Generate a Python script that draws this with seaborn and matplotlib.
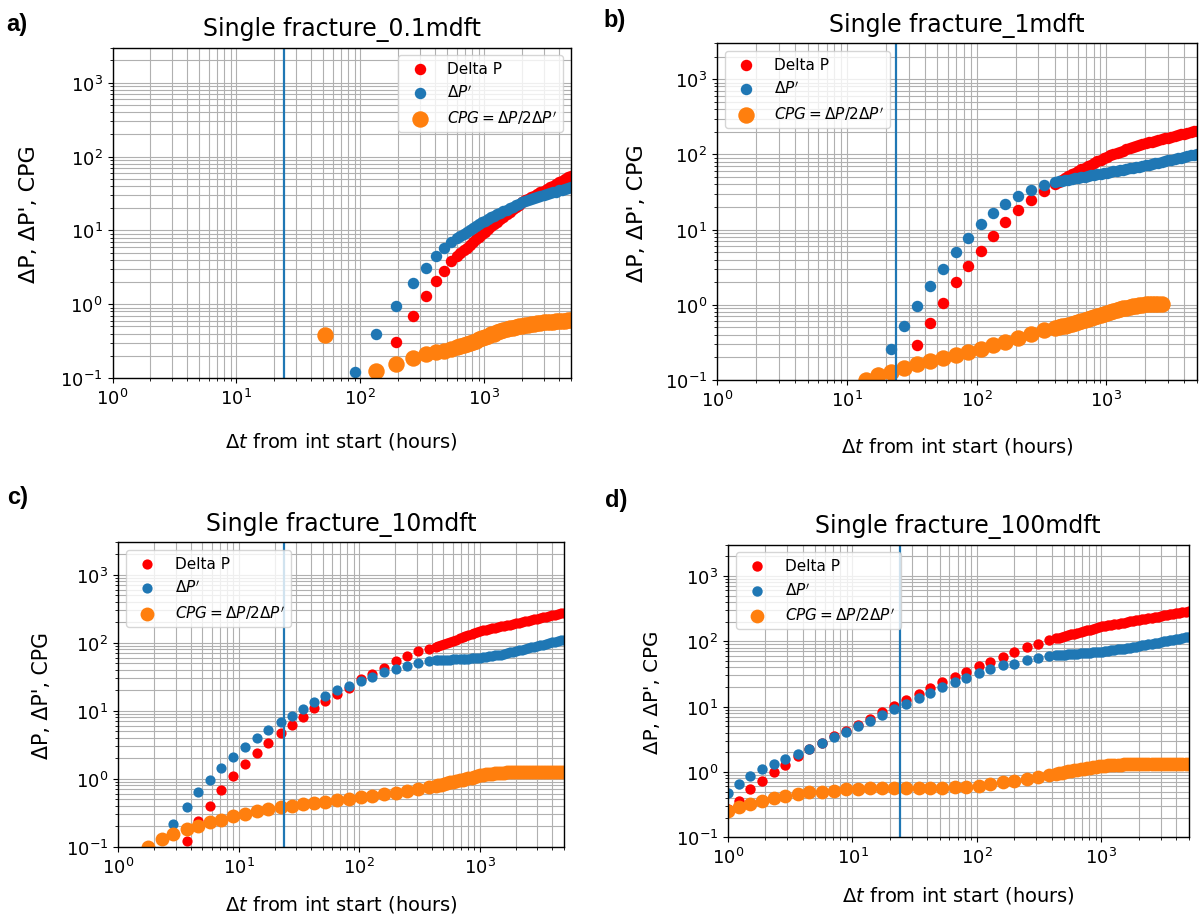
import matplotlib
matplotlib.use("Agg")
import matplotlib.pyplot as plt
import seaborn as sns

nan = float("nan")

# ---------------- data ----------------
# late-time samples (hours), shared by the panels
late_t = [430, 455, 480, 510, 540, 570, 605, 640, 680, 720, 760, 805, 855, 905,
          955, 1010, 1070, 1135, 1200, 1270, 1345, 1425, 1510, 1600, 1695, 1790,
          1900, 2010, 2130, 2250, 2385, 2525, 2675, 2830, 3000, 3175, 3360, 3560,
          3770, 3990, 4220, 4470, 4735, 5010]

# a) Single fracture_0.1mdft
a_t = [52, 90, 134, 194, 264, 337, 406, 474, 537] + late_t[6:]
a_dp = [nan, nan, nan, 0.31, 0.70, 1.31, 2.04, 2.85, 3.8,
        4.54, 4.92, 5.40, 5.85, 6.35, 6.90, 7.55, 8.22, 8.89, 9.62, 10.4, 11.3,
        12.1, 13.1, 14.1, 15.3, 16.5, 17.8, 19.2, 20.7, 22.4, 24.1, 25.4, 26.7,
        28.1, 29.6, 31.2, 32.9, 34.6, 36.5, 38.4, 40.4, 42.6, 44.8, 47.1, 49.7,
        52.2, 55.1]
a_dpd = [nan, 0.12, 0.39, 0.94, 1.94, 3.09, 4.5, 5.7, 7.05,
         7.98, 8.45, 9.02, 9.55, 10.1, 10.7, 11.4, 12.2, 12.8, 13.6, 14.3, 15.0,
         15.7, 16.5, 17.3, 18.1, 19.0, 19.9, 20.9, 21.9, 23.0, 24.0, 24.8, 25.5,
         26.4, 27.2, 28.0, 28.9, 29.8, 30.7, 31.6, 32.6, 33.6, 34.7, 35.6, 36.7,
         37.9, 39.1]
a_cpg = [0.38, nan, 0.125, 0.155, 0.184, 0.21, 0.225, 0.235, 0.245,
         0.26, 0.27, 0.28, 0.29, 0.30, 0.31, 0.32, 0.335, 0.35, 0.36, 0.375,
         0.39, 0.40, 0.415, 0.43, 0.445, 0.46, 0.47, 0.48, 0.49, 0.50, 0.51,
         0.52, 0.53, 0.54, 0.545, 0.55, 0.56, 0.565, 0.57, 0.575, 0.58, 0.585,
         0.59, 0.595, 0.60, 0.605, 0.61]

# b) Single fracture_1mdft
b_t = [14, 17.5, 22, 27.5, 35, 43.5, 55, 69, 86, 108, 133, 167, 209, 263, 330,
       400] + late_t
b_dp = [nan, nan, nan, nan, 0.29, 0.58, 1.06, 2.0, 3.3, 5.2, 8.3, 12.8, 18, 25,
        32.5, 40,
        43.2, 46.0, 48.8, 52.0, 54.6, 57.2, 60.2, 63.1, 66.6, 69.8, 73.3, 77.0,
        81.1, 85.3, 89.2, 93.5, 96.9, 100.6, 104.3, 108.1, 112.1, 116.3, 120.6,
        125.1, 129.8, 134.4, 138.4, 141.6, 145.0, 148.3, 152.0, 155.7, 159.5,
        163.4, 167.4, 171.5, 175.5, 179.6, 184.1, 188.4, 192.8, 197.7, 202.3,
        207.0]
b_dpd = [nan, 0.125, 0.26, 0.52, 0.95, 1.8, 3.0, 5.0, 7.8, 11.9, 16.8, 22, 28,
         34, 39.5, 42.5,
         43.6, 44.6, 45.4, 46.3, 47.1, 48.0, 48.9, 49.7, 50.6, 51.5, 52.4, 53.4,
         54.4, 55.3, 56.2, 57.2, 58.2, 59.3, 60.4, 61.5, 62.7, 63.8, 65.0, 66.2,
         67.5, 68.7, 70.0, 71.5, 73.1, 74.6, 76.2, 77.9, 79.6, 81.4, 83.2, 85.1,
         86.9, 88.8, 90.8, 92.8, 94.7, 96.8, 98.9, 101.0]
b_cpg = [0.1, 0.117, 0.129, 0.144, 0.164, 0.18, 0.195, 0.216, 0.235, 0.26,
         0.294, 0.32, 0.36, 0.41, 0.457, 0.49,
         0.51, 0.52, 0.53, 0.54, 0.555, 0.57, 0.585, 0.60, 0.62, 0.64, 0.66,
         0.685, 0.71, 0.735, 0.76, 0.785, 0.81, 0.835, 0.86, 0.88, 0.90, 0.92,
         0.94, 0.955, 0.97, 0.985, 1.0, 1.01, 1.015, 1.02, 1.025, 1.03, 1.03,
         nan, nan, nan, nan, nan, nan, nan, nan, nan, nan, nan]

# c) Single fracture_10mdft
c_t = [1.78, 2.3, 2.88, 3.72, 4.58, 5.8, 7.16, 9.06, 11.3, 14.3, 17.7, 22.5,
       27.5, 34.5, 42, 52.5, 66, 82, 104, 129, 162, 201, 250, 310, 378] + late_t
c_dp = [nan, nan, nan, 0.12, 0.24, 0.40, 0.68, 1.08, 1.63, 2.37, 3.4, 4.76, 6.2,
        8.2, 11.1, 13.9, 17.4, 21.7, 28.8, 34.1, 42.7, 53.5, 63.4, 75, 80,
        86.2, 89.5, 92.5, 96.3, 99.8, 103.3, 107.4, 111.2, 115.7, 119.8, 124.1,
        128.8, 133.7, 138.7, 143.5, 148.5, 151.8, 155.3, 158.6, 162.2, 165.9,
        169.4, 173.3, 177.3, 181.1, 185.4, 189.7, 193.6, 198.2, 202.3, 207.0,
        211.3, 216.3, 221.3, 226.0, 231.2, 236.0, 241.5, 246.6, 252.3, 257.6,
        263.6, 269.2, 275.4]
c_dpd = [nan, nan, 0.215, 0.378, 0.63, 0.96, 1.46, 2.11, 2.96, 3.93, 5.2, 6.8,
         8.4, 10.7, 13.4, 16.4, 19.9, 23, 27.2, 31.6, 36.9, 41.3, 45.2, 50.6,
         53.5,
         54.8, 55.2, 55.5, 55.8, 56.2, 56.5, 56.9, 57.2, 57.5, 57.8, 58.2, 58.6,
         58.9, 59.3, 59.6, 60.1, 61.1, 62.1, 63.0, 64.0, 64.9, 65.9, 67.1, 68.9,
         70.5, 72.1, 74.0, 75.7, 77.6, 79.4, 81.3, 83.4, 85.3, 87.5, 89.5, 91.8,
         94.0, 96.2, 98.6, 100.9, 103.3, 105.9, 108.4, 110.9]
c_cpg = [0.1, 0.13, 0.153, 0.18, 0.203, 0.228, 0.249, 0.279, 0.30, 0.33, 0.357,
         0.385, 0.40, 0.42, 0.44, 0.46, 0.48, 0.50, 0.53, 0.555, 0.59, 0.62,
         0.66, 0.71, 0.75,
         0.785, 0.80, 0.82, 0.84, 0.86, 0.88, 0.90, 0.92, 0.945, 0.97, 0.99,
         1.01, 1.04, 1.07, 1.095, 1.12, 1.14, 1.16, 1.175, 1.19, 1.20, 1.21,
         1.22, 1.23, 1.235, 1.24, 1.25, 1.26, 1.265, 1.27, 1.27, 1.27, 1.27,
         1.27, 1.27, 1.27, 1.27, 1.27, 1.27, 1.27, 1.27, 1.27, 1.27, 1.27]

# d) Single fracture_100mdft
d_t = [1.0, 1.22, 1.49, 1.87, 2.32, 2.88, 3.62, 4.49, 5.67, 7.04, 8.85, 11,
       13.9, 17.2, 21.4, 27, 33.9, 42, 52, 66, 82, 103, 127, 161, 199, 251, 311,
       380] + late_t
d_dp = [0.27, 0.364, 0.54, 0.72, 1.01, 1.28, 1.75, 2.26, 2.8, 3.5, 4.2, 5.2,
        6.5, 8.4, 10.2, 12.4, 15.8, 19.3, 23.8, 28.4, 33.9, 41.4, 48.3, 57.7,
        68.8, 82, 92, 104,
        110.5, 113.7, 116.7, 120.3, 123.6, 127.0, 130.9, 134.6, 138.7, 142.6,
        146.6, 150.7, 155.2, 159.9, 164.1, 168.4, 171.8, 175.4, 178.6, 182.0,
        185.8, 189.2, 193.2, 196.8, 200.9, 204.6, 208.9, 212.8, 216.8, 220.8,
        225.4, 229.6, 234.4, 238.8, 243.8, 248.3, 252.9, 258.2, 263.0, 267.9,
        273.5, 278.6, 284.4, 289.7]
d_dpd = [0.48, 0.66, 0.88, 1.09, 1.30, 1.58, 1.91, 2.26, 2.77, 3.42, 4.08, 5.04,
         6.1, 7.5, 9.3, 11.1, 13.5, 16.3, 20, 23.8, 27.5, 32.8, 38.1, 42.9,
         45.5, 51, 55.6, 59.7,
         60.8, 61.4, 61.8, 62.4, 62.9, 63.4, 64.0, 64.6, 65.2, 65.6, 66.2, 66.8,
         67.5, 67.9, 68.5, 69.2, 70.3, 71.5, 72.6, 73.8, 75.0, 76.2, 77.4, 78.7,
         80.0, 81.3, 82.6, 84.1, 86.1, 87.7, 89.5, 91.4, 93.3, 95.3, 97.3, 99.3,
         101.4, 103.5, 105.7, 107.9, 109.9, 112.2, 114.6, 116.9]
d_cpg = [0.25, 0.288, 0.324, 0.364, 0.396, 0.435, 0.46, 0.49, 0.50, 0.52, 0.54,
         0.55, 0.56, 0.56, 0.56, 0.56, 0.56, 0.57, 0.57, 0.58, 0.59, 0.62, 0.65,
         0.69, 0.73, 0.78, 0.84, 0.90,
         0.935, 0.955, 0.975, 1.0, 1.02, 1.04, 1.06, 1.08, 1.10, 1.12, 1.14,
         1.16, 1.18, 1.20, 1.22, 1.24, 1.25, 1.26, 1.27, 1.28, 1.29, 1.295, 1.3,
         1.3, 1.3, 1.3, 1.3, 1.3, 1.3, 1.3, 1.3, 1.3, 1.3, 1.3, 1.3, 1.3, 1.3,
         1.3, 1.3, 1.3, 1.3, 1.3, 1.3, 1.3]

titles = ["Single fracture_0.1mdft", "Single fracture_1mdft",
          "Single fracture_10mdft", "Single fracture_100mdft"]
panel_tags = ["a)", "b)", "c)", "d)"]
labels = ["Delta P", r"$\Delta P'$", r"$CPG = \Delta P/2\Delta P'$"]
t_marker = 24  # vertical reference line (hours)

# ---------------- layout ----------------
W, H = 1202, 920
fig = plt.figure(figsize=(W / 100, H / 100), dpi=100)

# pixel boxes (left, top, right, bottom)
boxes = [(112.5, 48.5, 571, 379),
         (717, 44.3, 1197, 381),
         (118, 543.3, 564, 847.7),
         (728, 545.7, 1188.5, 838.3)]
tag_pos = [(6, 13), (603, 9), (7, 486), (605, 489)]
legend_loc = ["upper right", "upper left", "upper left", "upper left"]
small_s = [68, 68, 54, 56]
big_s = [140, 140, 100, 98]
ylab_fs = [16, 16, 14.8, 14.3]
ylab_pad = [15, 13, 10, 10]
xlab_pad = [16, 18, 12, 12]

panels = [(a_t, a_dp, a_dpd, a_cpg), (b_t, b_dp, b_dpd, b_cpg),
          (c_t, c_dp, c_dpd, c_cpg), (d_t, d_dp, d_dpd, d_cpg)]

for i, (t, dp, dpd, cpg) in enumerate(panels):
    l, tp, r, b = boxes[i]
    ax = fig.add_axes([l / W, 1 - b / H, (r - l) / W, (b - tp) / H])
    sns.scatterplot(x=t, y=dp, ax=ax, color="red", s=small_s[i], linewidth=0,
                    label=labels[0])
    sns.scatterplot(x=t, y=dpd, ax=ax, color="#1f77b4", s=small_s[i],
                    linewidth=0, label=labels[1])
    sns.scatterplot(x=t, y=cpg, ax=ax, color="#ff7f0e", s=big_s[i],
                    linewidth=0, label=labels[2])
    ax.axvline(t_marker, color="#1f77b4", lw=1.6)
    ax.set_xscale("log")
    ax.set_yscale("log")
    ax.set_xlim(1, 5000)
    ax.set_ylim(0.1, 3000)
    ax.grid(True, which="both", color="#b0b0b0", lw=0.8)
    ax.set_axisbelow(True)
    ax.tick_params(which="both", labelsize=13, colors="black")
    ax.set_title(titles[i], fontsize=17, pad=9)
    ax.set_xlabel(r"$\Delta t$ from int start (hours)", fontsize=14,
                  labelpad=xlab_pad[i])
    ax.set_ylabel("ΔP, ΔP', CPG", fontsize=ylab_fs[i], labelpad=ylab_pad[i])
    for sp in ax.spines.values():
        sp.set_color("black")
        sp.set_linewidth(1.0)
    ax.legend(loc=legend_loc[i], fontsize=11, framealpha=0.8)
    fig.text(tag_pos[i][0] / W, 1 - tag_pos[i][1] / H, panel_tags[i],
             fontsize=17, fontweight="bold", family="Liberation Sans",
             va="top", ha="left")

fig.savefig("out.png", dpi=100)
